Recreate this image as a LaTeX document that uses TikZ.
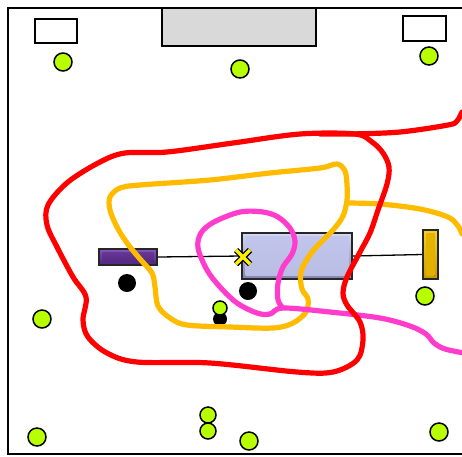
\documentclass[tikz,border=0pt]{standalone}
\usetikzlibrary{calc}
\definecolor{limeg}{HTML}{B8FF00}
\definecolor{redc}{HTML}{FF0000}
\definecolor{orangec}{HTML}{FFBB00}
\definecolor{magc}{HTML}{FF3CCC}
\definecolor{purpd}{HTML}{4E2478}
\definecolor{purpc}{HTML}{6A3A9C}
\definecolor{purpl}{HTML}{8656BC}
\definecolor{lavd}{HTML}{8286AE}
\definecolor{lavt}{HTML}{D4D6F6}
\definecolor{lavl}{HTML}{E6E8FD}
\definecolor{lavm}{HTML}{C2C5EC}
\definecolor{goldd}{HTML}{C99A00}
\definecolor{goldc}{HTML}{E6B400}
\definecolor{goldl}{HTML}{F7D030}
\definecolor{xyel}{HTML}{FFF000}
\tikzset{
  frameline/.style={line width=2pt, line cap=rect},
  greendot/.style={circle, draw=black, line width=1.5pt, fill=limeg, minimum size=18pt, inner sep=0pt},
  smallgreen/.style={greendot, minimum size=14pt},
  blackdot/.style={circle, fill=black, minimum size=18pt, inner sep=0pt},
  smallblack/.style={blackdot, minimum size=14pt},
  plainbox/.style={draw=black, line width=1.5pt, fill=white, inner sep=0pt},
  bevelbox/.style 2 args={draw=black!85, line width=1.8pt, inner sep=0pt, #1,
     path picture={\fill[#2] ([xshift=3.5pt,yshift=-3.5pt]path picture bounding box.north west) rectangle ([xshift=-3.5pt,yshift=3.5pt]path picture bounding box.south east);}},
  curve/.style={line width=5.2pt, line cap=round, line join=round},
  link/.style={line width=1.3pt, black},
}
\begin{document}
\begin{tikzpicture}[x=1pt,y=-1pt]
\useasboundingbox (0,0) rectangle (462,456);
% frame
\draw[frameline] (462,8) -- (8,8) -- (8,454) -- (462,454);
% top rectangles
\node[plainbox, minimum width=42pt, minimum height=24pt] (tl) at (56,31) {};
\node[plainbox, fill=black!15, minimum width=154pt, minimum height=38pt] (tc) at (239,27) {};
\node[plainbox, minimum width=43pt, minimum height=25pt] (tr) at (424.5,28.5) {};
% equipment
\node[bevelbox={top color=purpl, bottom color=purpd}{top color=purpc, bottom color=purpd!90!purpc}, minimum width=58pt, minimum height=16pt] (pb) at (128,257) {};
\node[bevelbox={top color=lavt, bottom color=lavd}{top color=lavm, middle color=lavl, bottom color=lavm!85!lavd}, minimum width=110pt, minimum height=46pt] (bx) at (297,256) {};
\node[bevelbox={top color=goldl, bottom color=goldd}{top color=goldc, bottom color=goldc!80!goldd}, minimum width=15pt, minimum height=49pt] (gb) at (430.5,254.5) {};
\draw[link] (pb.east) -- (bx.west);
\draw[link] (bx.east) -- (gb.west);
% X marker
\coordinate (xm) at (243,257);
\draw[line width=6pt, black] ($(xm)+(-7,-7)$) -- ($(xm)+(7,7)$) ($(xm)+(-7,7)$) -- ($(xm)+(7,-7)$);
\draw[line width=3.4pt, xyel] ($(xm)+(-7,-7)$) -- ($(xm)+(7,7)$) ($(xm)+(-7,7)$) -- ($(xm)+(7,-7)$);
% black dots
\node[blackdot] (k1) at (127,283) {};
\node[blackdot] (k2) at (248,291) {};
\node[smallblack] (k3) at (220,319) {};
% curves
\draw[curve, orangec] plot[smooth cycle, tension=0.55] coordinates {(120,188) (140,185) (210,180) (270,173) (320,168) (337,164) (345,171) (347,185) (347,200) (343,216) (333,230) (312,252) (301,272) (302,289) (308,299) (306,312) (293,323) (273,328) (230,327) (187,325) (170,318) (158,306) (155,287) (152,273) (140,259) (127,243) (117,227) (110,210) (110,197)};
\draw[curve, orangec] plot[smooth, tension=0.55] coordinates {(347,203) (380,204) (420,209) (448,217) (458,226) (462,234)};
\draw[curve, magc] plot[smooth, tension=0.55] coordinates {(464,353) (445,349) (434,343) (426,334) (410,326) (380,318) (330,312) (283,308) (270,314) (257,313) (237,303) (220,287) (207,270) (198,248) (201,233) (214,222) (240,212) (263,212) (278,217) (290,228) (295,241) (292,254) (283,267) (278,283) (278,300) (283,308)};
\draw[curve, redc] plot[smooth, tension=0.55] coordinates {(462,112) (457,121) (448,125) (400,132) (350,134) (320,134)};
\draw[curve, redc] plot[smooth cycle, tension=0.55] coordinates {(355,134) (300,134) (233,143) (167,152) (125,153) (100,162) (68,182) (48,205) (47,225) (57,247) (73,277) (86,297) (83,320) (88,337) (107,353) (137,362) (210,363) (297,372) (333,372) (357,360) (363,340) (360,322) (347,305) (343,293) (347,277) (360,252) (370,233) (378,210) (387,184) (389,167) (383,153) (372,142)};
% green dots
\node[greendot] (g1) at (63,62) {};
\node[greendot] (g2) at (240,69) {};
\node[greendot] (g3) at (429,56) {};
\node[greendot] (g4) at (42,319) {};
\node[smallgreen] (g5) at (220,308) {};
\node[greendot] (g6) at (425,296) {};
\node[greendot] (g7) at (37,437) {};
\node[smallgreen, minimum size=16pt] (g8) at (208,415) {};
\node[smallgreen, minimum size=16pt] (g9) at (208,431) {};
\node[greendot] (g10) at (249,441) {};
\node[greendot] (g11) at (439,432) {};
\end{tikzpicture}
\end{document}
